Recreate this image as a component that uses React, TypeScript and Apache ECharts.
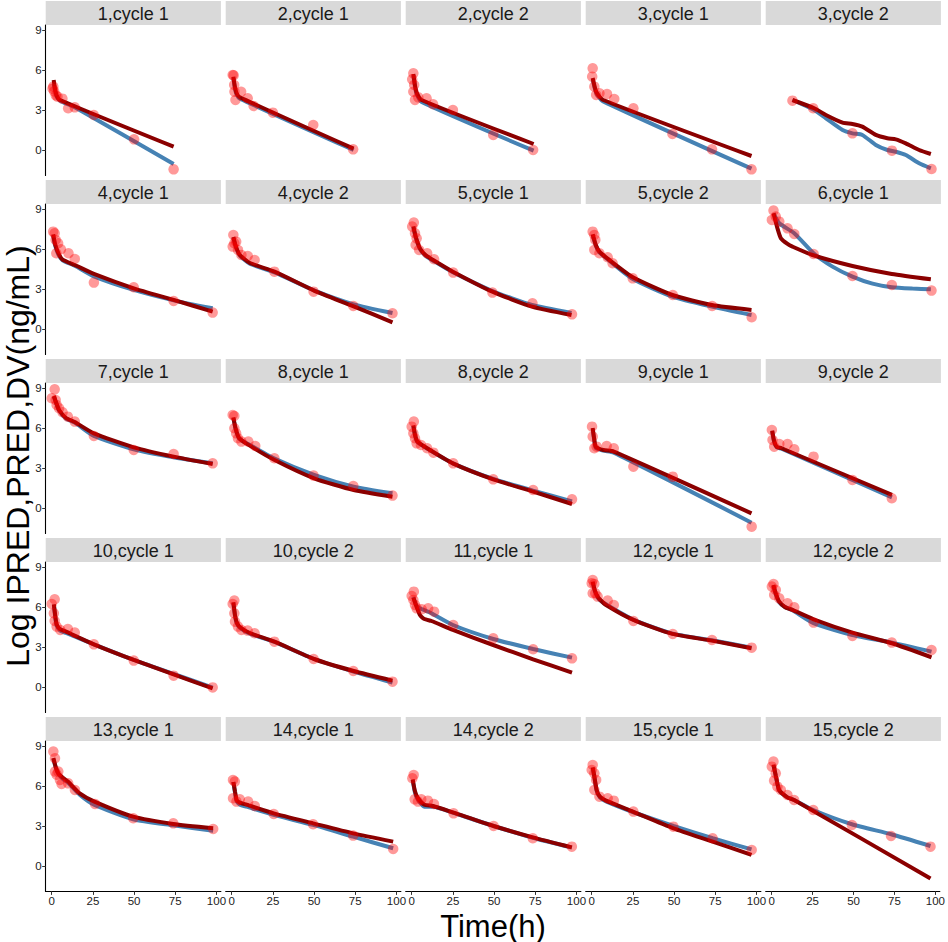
import React, { useEffect, useRef } from 'react';
import * as echarts from 'echarts';

const FONT = '"Liberation Sans", Arial, Helvetica, sans-serif';

const panelTitles = [
  '1,cycle 1', '2,cycle 1', '2,cycle 2', '3,cycle 1', '3,cycle 2',
  '4,cycle 1', '4,cycle 2', '5,cycle 1', '5,cycle 2', '6,cycle 1',
  '7,cycle 1', '8,cycle 1', '8,cycle 2', '9,cycle 1', '9,cycle 2',
  '10,cycle 1', '10,cycle 2', '11,cycle 1', '12,cycle 1', '12,cycle 2',
  '13,cycle 1', '14,cycle 1', '14,cycle 2', '15,cycle 1', '15,cycle 2',
];

const xTicks = [0, 25, 50, 75, 100];
const yTicks = [0, 3, 6, 9];

// Observed DV: [time, log conc]
const dvData: number[][][] = [
  [[0.5, 4.6], [1, 4.75], [1.5, 4.4], [2.5, 4.1], [3.5, 4.0], [6.5, 3.85], [10, 3.13], [14, 3.2], [25.5, 2.63], [50, 0.8], [74, -1.45]],
  [[0.6, 5.63], [1.2, 5.6], [1.5, 4.88], [1.7, 4.37], [2.3, 3.75], [5.7, 4.37], [9.7, 3.88], [13.3, 3.3], [25, 2.8], [49.5, 1.88], [73.7, 0.05]],
  [[0.3, 5.3], [1, 5.75], [1.5, 4.88], [1, 4.37], [2, 3.75], [4, 3.95], [9, 3.88], [13, 3.43], [25, 3.0], [49.5, 1.13], [73.7, 0.0]],
  [[0.6, 6.13], [0.3, 5.5], [1.6, 4.75], [2.7, 4.13], [4.7, 4.25], [9.3, 4.2], [13.7, 3.83], [25.3, 3.13], [49, 1.2], [73, 0.05], [97, -1.45]],
  [[12.6, 3.7], [25.2, 3.13], [49, 1.25], [73, -0.05], [97, -1.43]],
  [[0.9, 7.3], [1.8, 7.18], [2.4, 6.68], [3.9, 6.43], [2.8, 5.68], [5.6, 5.98], [10.2, 5.68], [14, 5.25], [25.6, 3.48], [49.8, 3.13], [74, 2.1], [97.7, 1.23]],
  [[1, 7.05], [1.6, 6.43], [2.7, 6.55], [0.6, 6.18], [3.8, 5.93], [5.9, 5.55], [9.7, 5.48], [13.9, 5.18], [25.9, 4.3], [49.7, 2.8], [73.8, 1.73], [97.6, 1.18]],
  [[1.3, 7.98], [0.3, 7.68], [2, 7.18], [3, 6.8], [2.4, 6.3], [4.5, 5.93], [9.4, 5.68], [13.6, 5.23], [25.2, 4.23], [49, 2.73], [73.3, 1.93], [97.3, 1.1]],
  [[0.6, 7.3], [1.6, 7.05], [2.2, 6.68], [1.6, 5.93], [4.7, 5.68], [9.7, 5.38], [12.7, 4.93], [24.9, 3.8], [49.2, 2.55], [73.1, 1.73], [97.1, 0.88]],
  [[1.1, 8.88], [0.1, 8.18], [2.5, 8.43], [4.6, 8.05], [9.6, 7.55], [13.7, 7.13], [25.4, 5.63], [49, 3.98], [72.9, 3.3], [97, 2.88]],
  [[1.8, 8.9], [0, 8.23], [2.4, 8.1], [3, 7.73], [4.5, 7.48], [6.6, 7.18], [9.8, 6.85], [14, 6.48], [25.6, 5.4], [49.8, 4.35], [74, 4.05], [97.7, 3.35]],
  [[1.6, 6.9], [0.6, 6.98], [1.6, 5.98], [2.7, 5.6], [3.8, 5.23], [5.9, 4.98], [10.1, 4.98], [14.3, 4.65], [25.9, 3.73], [49.7, 2.43], [73.8, 1.65], [97.6, 0.93]],
  [[1.3, 6.48], [0, 6.1], [1, 5.6], [2, 5.23], [3, 4.85], [5.6, 4.73], [9.4, 4.48], [13.2, 4.15], [25.2, 3.35], [49.5, 2.15], [73.7, 1.35], [97.3, 0.65]],
  [[0.2, 6.1], [0.6, 5.35], [1.6, 4.48], [3, 4.6], [9.1, 4.65], [13.4, 4.48], [25.3, 3.1], [49.2, 2.35], [97.1, -1.4]],
  [[0.1, 5.85], [0.5, 5.1], [1.5, 4.6], [4.6, 4.8], [9.6, 4.8], [13.7, 4.4], [25.4, 3.85], [49, 2.1], [72.9, 0.73]],
  [[1.8, 6.58], [0, 6.23], [1.3, 5.53], [1.8, 4.95], [3, 4.53], [5.2, 4.28], [9.8, 4.35], [14, 4.08], [25.6, 3.2], [49.8, 1.98], [74, 0.85], [97.7, -0.03]],
  [[1.6, 6.48], [0.6, 6.23], [1.6, 5.53], [2, 4.9], [3.8, 4.53], [5.9, 4.28], [9.7, 4.23], [13.9, 4.03], [25.9, 3.4], [49.7, 2.1], [73.8, 1.2], [97.6, 0.4]],
  [[1.3, 7.15], [0, 6.83], [1, 6.53], [2, 6.15], [3, 5.9], [6.1, 5.83], [10, 5.9], [13.6, 5.65], [25.2, 4.65], [49.5, 3.65], [73.7, 2.83], [97.3, 2.15]],
  [[0.6, 8.03], [0, 7.78], [1.6, 7.73], [0.6, 7.03], [2.2, 7.03], [3.6, 6.78], [9.7, 6.48], [13.4, 6.15], [25.3, 4.95], [49.2, 3.98], [73, 3.53], [97.1, 2.95]],
  [[1.1, 7.73], [0.1, 7.53], [2.5, 7.28], [1.5, 6.9], [4.6, 6.65], [9.6, 6.28], [13.7, 5.98], [25.4, 4.83], [49, 3.83], [72.9, 3.33], [97, 2.78]],
  [[1, 8.58], [2, 8.08], [2, 7.08], [3, 6.85], [4, 7.08], [5, 6.45], [6, 6.15], [10, 6.2], [14.1, 5.7], [26.3, 4.65], [49.5, 3.58], [73.8, 3.2], [98, 2.78]],
  [[0.8, 6.45], [1.9, 6.33], [0.8, 5.08], [2.9, 4.83], [4.9, 5.0], [10, 4.83], [14, 4.5], [25.5, 3.9], [49.4, 3.13], [73.7, 2.28], [98, 1.28]],
  [[1.2, 6.83], [0.4, 6.58], [1.8, 5.0], [3.8, 4.83], [5.8, 5.0], [9.8, 4.9], [13.5, 4.65], [25.4, 3.95], [49.7, 3.0], [73.5, 2.08], [97.2, 1.45]],
  [[0.6, 7.58], [0, 7.2], [1.6, 6.95], [2.7, 6.45], [1.6, 5.7], [4.7, 5.2], [9.7, 5.08], [13.4, 4.9], [25.3, 4.08], [49.6, 2.95], [73.4, 2.08], [97.1, 1.2]],
  [[1.1, 7.83], [0.1, 7.45], [2.5, 6.95], [1.5, 6.4], [3.5, 5.95], [5.6, 5.7], [9.6, 5.33], [13.7, 4.95], [25.4, 4.2], [49, 3.08], [72.9, 2.25], [97, 1.45]],
];

// Individual predictions (blue)
const ipredData: number[][][] = [
  [[1.2, 5.0], [2, 4.45], [3, 4.0], [5, 3.7], [14, 3.2], [74, -1.05]],
  [[1, 5.4], [2, 4.6], [3, 4.15], [5, 3.85], [74, 0.0]],
  [[1, 5.6], [2, 4.75], [3, 4.2], [6, 3.6], [74, -0.05]],
  [[0.6, 5.3], [2, 4.55], [3, 4.2], [7, 3.65], [97, -1.4]],
  [[12.6, 3.75], [25.8, 3.0], [32.9, 2.38], [43, 1.5], [49, 1.25], [55, 1.13], [63.2, 0.38], [70.2, 0.0], [75.3, -0.13], [81.4, -0.38], [89.5, -1.0], [96.6, -1.38]],
  [[0.9, 7.0], [2, 6.3], [4, 5.6], [6.6, 5.15], [14, 4.75], [25.6, 3.95], [49.8, 2.93], [74, 2.15], [97.7, 1.55]],
  [[1, 6.85], [2.5, 6.15], [5, 5.5], [11, 4.9], [26, 4.25], [50, 2.9], [74, 1.85], [97.6, 1.2]],
  [[1, 7.65], [2.5, 6.85], [5, 6.0], [8.4, 5.5], [14, 5.05], [25, 4.25], [49, 2.85], [73, 1.8], [97, 1.2]],
  [[0.6, 7.05], [2.5, 6.25], [4.7, 5.75], [10.7, 5.12], [25, 3.75], [49, 2.43], [73, 1.68], [97, 1.05]],
  [[1.1, 8.68], [4.6, 7.93], [13.7, 7.18], [25.4, 5.68], [36.9, 4.68], [49, 3.93], [61.2, 3.4], [72.9, 3.13], [85.4, 3.03], [96.6, 2.98]],
  [[1.3, 8.35], [3, 7.75], [4.5, 7.3], [8.7, 6.7], [14, 6.4], [25.6, 5.4], [49.8, 4.4], [74, 3.8], [97.7, 3.35]],
  [[1, 6.75], [2.5, 5.85], [4.5, 5.2], [10, 4.8], [26, 3.7], [50, 2.48], [74, 1.6], [97.6, 1.1]],
  [[1, 6.15], [2, 5.45], [3.4, 4.95], [9.4, 4.45], [25, 3.35], [49.5, 2.18], [73.7, 1.3], [97.3, 0.5]],
  [[0.6, 5.9], [1.5, 5.1], [2.5, 4.5], [7, 4.3], [13.4, 4.15], [97, -1.1]],
  [[0.3, 5.75], [1.5, 4.95], [3, 4.55], [6, 4.45], [73, 0.8]],
  [[1.3, 6.15], [2.2, 5.2], [3, 4.6], [5, 4.25], [8.7, 4.05], [25.6, 3.2], [49.8, 2.03], [74, 0.98], [97.7, -0.05]],
  [[1, 6.3], [2, 5.35], [3, 4.8], [4.9, 4.45], [11, 4.0], [26, 3.38], [50, 2.1], [74, 1.15], [97.6, 0.33]],
  [[1, 6.75], [2.5, 6.2], [4, 5.95], [6, 5.85], [11.6, 5.55], [25, 4.65], [49.5, 3.6], [73.7, 2.85], [97.3, 2.2]],
  [[0.6, 7.85], [2, 7.15], [3.5, 6.75], [4.7, 6.55], [8.7, 6.2], [25.3, 5.05], [49, 4.0], [73, 3.5], [97, 2.95]],
  [[1, 7.6], [2.5, 6.95], [4.6, 6.35], [8, 6.0], [12.6, 5.75], [25.4, 4.78], [49, 3.9], [73, 3.33], [97, 2.65]],
  [[1, 8.05], [2.5, 7.35], [4, 6.9], [7, 6.5], [10, 6.25], [17, 5.35], [26, 4.58], [49.5, 3.5], [73.8, 3.05], [98, 2.65]],
  [[1, 6.3], [2, 5.5], [3, 4.85], [5, 4.6], [9, 4.45], [25.5, 3.83], [49.4, 3.08], [73.7, 2.2], [98, 1.33]],
  [[0.6, 6.45], [2, 5.5], [3.7, 5.0], [7.7, 4.45], [13, 4.45], [25.4, 3.98], [49.7, 3.0], [73.5, 2.12], [97.2, 1.38]],
  [[0.6, 7.35], [1.5, 6.75], [3, 5.65], [5, 5.15], [8.7, 4.85], [25, 4.05], [49.6, 3.0], [73.4, 2.08], [97, 1.25]],
  [[1.1, 7.55], [2.5, 6.75], [4.6, 5.65], [9.6, 5.15], [13.7, 4.95], [25.4, 4.2], [49, 3.13], [73, 2.38], [97, 1.5]],
];

// Population predictions (dark red)
const predData: number[][][] = [
  [[1.2, 5.25], [2, 4.6], [3, 4.1], [5, 3.75], [74, 0.25]],
  [[1, 5.5], [2, 4.7], [3, 4.25], [5, 3.95], [74, 0.1]],
  [[1, 5.7], [2, 4.85], [3, 4.3], [6, 3.75], [74, 0.45]],
  [[0.6, 5.4], [2, 4.65], [3, 4.3], [7, 3.75], [97, -0.45]],
  [[12.6, 3.75], [25.8, 3.13], [32.9, 2.63], [43, 2.05], [49, 1.95], [55, 1.75], [63.2, 1.13], [70.2, 0.88], [75.3, 0.8], [81.4, 0.5], [89.5, 0.0], [96.6, -0.3]],
  [[0.9, 7.1], [2, 6.4], [4, 5.7], [6.6, 5.2], [14, 4.8], [25.6, 4.13], [49.8, 3.05], [74, 2.18], [97.7, 1.3]],
  [[1, 6.9], [2.5, 6.2], [5, 5.55], [11, 4.95], [26, 4.3], [50, 2.88], [74, 1.7], [97.6, 0.5]],
  [[1, 7.7], [2.5, 6.9], [5, 6.05], [8.4, 5.55], [14, 5.1], [25, 4.3], [49, 2.8], [73, 1.68], [97, 1.05]],
  [[0.6, 7.1], [2.5, 6.3], [4.7, 5.8], [10.7, 5.18], [25, 3.88], [49, 2.55], [73, 1.8], [97, 1.43]],
  [[1.1, 8.68], [3.5, 7.55], [5.6, 6.8], [9.6, 6.38], [12.6, 6.18], [24.8, 5.55], [49, 4.73], [72.9, 4.13], [96.6, 3.73]],
  [[1.3, 8.4], [3, 7.8], [4.5, 7.35], [8.7, 6.75], [14, 6.45], [25.6, 5.6], [49.8, 4.55], [74, 3.85], [97.7, 3.3]],
  [[1, 6.8], [2.5, 5.9], [4.5, 5.25], [10, 4.75], [26, 3.6], [50, 2.23], [74, 1.35], [97.6, 0.85]],
  [[1, 6.2], [2, 5.5], [3.4, 5.0], [9.4, 4.48], [25, 3.35], [49.5, 2.15], [73.7, 1.23], [97.3, 0.3]],
  [[0.6, 6.0], [1.5, 5.2], [2.5, 4.6], [7, 4.35], [13.4, 4.23], [97, -0.4]],
  [[0.3, 5.8], [1.5, 5.0], [3, 4.6], [6, 4.48], [73, 0.98]],
  [[1.3, 6.2], [2.2, 5.3], [3, 4.7], [5, 4.35], [8.7, 4.15], [25.6, 3.2], [49.8, 2.03], [74, 0.95], [97.7, -0.1]],
  [[1, 6.35], [2, 5.4], [3, 4.85], [4.9, 4.5], [11, 4.05], [26, 3.4], [50, 2.1], [74, 1.2], [97.6, 0.48]],
  [[1, 6.7], [3, 6.0], [5, 5.4], [7, 5.15], [9, 5.05], [12, 4.95], [25, 4.28], [49.5, 3.15], [73.7, 2.08], [97.3, 1.08]],
  [[0.6, 7.9], [2, 7.2], [3.5, 6.8], [4.7, 6.6], [8.7, 6.15], [25.3, 5.03], [49, 3.98], [73, 3.48], [97, 2.9]],
  [[1, 7.65], [2.5, 7.0], [4.6, 6.4], [8, 6.0], [12.6, 5.78], [25.4, 5.08], [49, 4.08], [73, 3.28], [97, 2.23]],
  [[1, 8.1], [2.5, 7.4], [4, 6.95], [7, 6.6], [10, 6.33], [17, 5.45], [26, 4.83], [49.5, 3.7], [73.8, 3.15], [98, 2.83]],
  [[1, 6.3], [2, 5.6], [3, 4.95], [5, 4.75], [9, 4.6], [25.5, 3.95], [49.4, 3.2], [73.7, 2.45], [98, 1.83]],
  [[0.6, 6.5], [2, 5.6], [3.7, 5.1], [7.7, 4.6], [13, 4.5], [25.4, 4.0], [49.7, 3.0], [73.5, 2.15], [97.2, 1.4]],
  [[0.6, 7.4], [1.5, 6.8], [3, 5.7], [5, 5.2], [8.7, 4.9], [25, 4.08], [49.6, 2.83], [73.4, 1.83], [97, 0.83]],
  [[1.1, 7.6], [2.5, 6.8], [4.6, 5.7], [9.6, 5.15], [13.7, 4.95], [97, -0.93]],
];

const X_MIN = -3.64;
const X_MAX = 102.7;
const Y_MIN = -1.905;
const Y_MAX = 9.375;

function buildOption() {
  const colLeft = [45.7, 225.7, 405.7, 585.7, 765.7];
  const panelW = 175.2;
  const rowStep = 179;
  const stripH = 24;
  const panelH = 150.4;

  const grids: any[] = [];
  const xAxes: any[] = [];
  const yAxes: any[] = [];
  const series: any[] = [];
  const graphics: any[] = [];

  panelTitles.forEach((title, i) => {
    const r = Math.floor(i / 5);
    const c = i % 5;
    const left = colLeft[c];
    const stripTop = 1 + r * rowStep;
    const top = stripTop + stripH;
    const isBottom = r === 4;
    const isLeft = c === 0;

    grids.push({ left, top, width: panelW, height: panelH, containLabel: false, show: false });

    xAxes.push({
      type: 'value',
      gridIndex: i,
      min: X_MIN,
      max: X_MAX,
      splitLine: { show: false },
      axisLine: { show: isBottom, onZero: false, lineStyle: { color: '#000', width: 1.1 } },
      axisTick: { show: isBottom, length: 3.5, customValues: xTicks, lineStyle: { color: '#333', width: 1 } },
      axisLabel: { show: isBottom, customValues: xTicks, fontSize: 11.5, color: '#222', margin: 4, fontFamily: FONT },
    });
    yAxes.push({
      type: 'value',
      gridIndex: i,
      min: Y_MIN,
      max: Y_MAX,
      splitLine: { show: false },
      axisLine: { show: isLeft, onZero: false, lineStyle: { color: '#000', width: 1.1 } },
      axisTick: { show: isLeft, length: 3.5, customValues: yTicks, lineStyle: { color: '#333', width: 1 } },
      axisLabel: { show: isLeft, customValues: yTicks, fontSize: 11.5, color: '#222', margin: 4, fontFamily: FONT },
    });

    series.push({
      type: 'line',
      xAxisIndex: i,
      yAxisIndex: i,
      data: ipredData[i],
      symbol: 'none',
      smooth: 0.2,
      lineStyle: { color: '#4682B4', width: 4 },
      z: 2,
      silent: true,
    });
    series.push({
      type: 'line',
      xAxisIndex: i,
      yAxisIndex: i,
      data: predData[i],
      symbol: 'none',
      smooth: 0.2,
      lineStyle: { color: '#8B0000', width: 4 },
      z: 3,
      silent: true,
    });
    series.push({
      type: 'scatter',
      xAxisIndex: i,
      yAxisIndex: i,
      data: dvData[i],
      symbol: 'circle',
      symbolSize: 10.5,
      itemStyle: { color: 'rgba(255,0,0,0.5)' },
      z: 4,
      silent: true,
    });

    graphics.push({
      type: 'rect',
      shape: { x: left, y: stripTop, width: panelW, height: stripH },
      style: { fill: '#D9D9D9' },
      silent: true,
    });
    graphics.push({
      type: 'text',
      x: left + panelW / 2,
      y: stripTop + stripH / 2 + 0.5,
      style: {
        text: title,
        fontSize: 18,
        fontFamily: FONT,
        fill: '#1A1A1A',
        textAlign: 'center',
        align: 'center',
        textVerticalAlign: 'middle',
        verticalAlign: 'middle',
      },
      silent: true,
    });
  });

  graphics.push({
    type: 'text',
    x: 493,
    y: 926,
    style: {
      text: 'Time(h)',
      fontSize: 31,
      fontFamily: FONT,
      fill: '#000',
      textAlign: 'center',
      align: 'center',
      textVerticalAlign: 'middle',
      verticalAlign: 'middle',
    },
    silent: true,
  });
  graphics.push({
    type: 'text',
    x: 18,
    y: 456,
    rotation: Math.PI / 2,
    style: {
      text: 'Log IPRED,PRED,DV(ng/mL)',
      fontSize: 32,
      fontFamily: FONT,
      fill: '#000',
      textAlign: 'center',
      align: 'center',
      textVerticalAlign: 'middle',
      verticalAlign: 'middle',
    },
    silent: true,
  });

  return {
    animation: false,
    backgroundColor: '#FFFFFF',
    grid: grids,
    xAxis: xAxes,
    yAxis: yAxes,
    series,
    graphic: { elements: graphics },
  };
}

export default function App() {
  const ref = useRef<HTMLDivElement>(null);
  useEffect(() => {
    if (!ref.current) return;
    const chart = echarts.init(ref.current, null, { renderer: 'svg' });
    chart.setOption(buildOption() as any);
    return () => {
      chart.dispose();
    };
  }, []);
  return (
    <div
      ref={ref}
      style={{ position: 'fixed', left: 0, top: 0, width: 948, height: 942, background: '#fff' }}
    />
  );
}
